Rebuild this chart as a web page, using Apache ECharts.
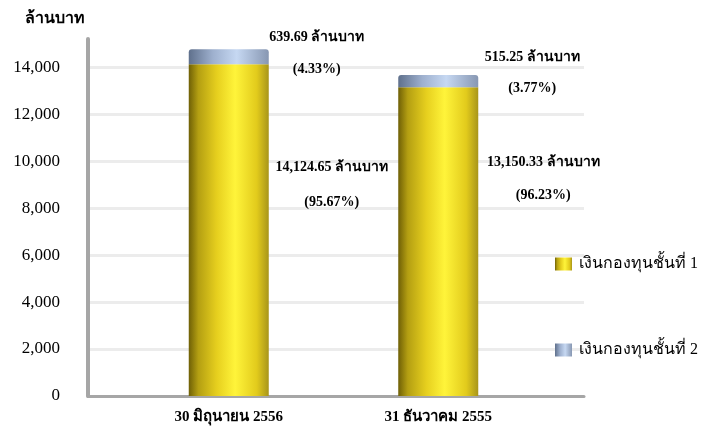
<!DOCTYPE html>
<html>
<head>
<meta charset="utf-8">
<script src="https://cdn.jsdelivr.net/npm/echarts@6/dist/echarts.min.js"></script>
<style>
html,body{margin:0;padding:0;background:#fff;}
#chart{width:711px;height:430px;}
</style>
</head>
<body>
<div id="chart"></div>
<script>
// ---- data ----
const categories = ['30 มิถุนายน 2556', '31 ธันวาคม 2555'];
const seriesNames = ['เงินกองทุนชั้นที่ 1', 'เงินกองทุนชั้นที่ 2'];
const tier1 = [14124.65, 13150.33];
const tier2 = [639.69, 515.25];
const unitLabel = 'ล้านบาท';
const yTicks = [0, 2000, 4000, 6000, 8000, 10000, 12000, 14000];

// ---- style ----
const FONT = '"Liberation Serif","Times New Roman",serif';
const tier1Offsets = [[63, -45.5, 35], [65, -63, 33]];
const tier2Offsets = [[48, -3.5, 32], [54, -8.5, 31]];
const yMax = 15200;

function fmt(v) {
  return v.toLocaleString('en-US', {minimumFractionDigits: 2, maximumFractionDigits: 2});
}
const totals = tier1.map((v, i) => v + tier2[i]);

const yellow = new echarts.graphic.LinearGradient(0, 0, 1, 0, [
  {offset: 0, color: '#6f6006'},
  {offset: 0.12, color: '#b49f12'},
  {offset: 0.35, color: '#e6cf1e'},
  {offset: 0.58, color: '#fff43a'},
  {offset: 0.85, color: '#e2cb1c'},
  {offset: 1, color: '#a8951a'}
]);
const blue = new echarts.graphic.LinearGradient(0, 0, 1, 0, [
  {offset: 0, color: '#5f708c'},
  {offset: 0.3, color: '#9eb0ce'},
  {offset: 0.6, color: '#c6d8f2'},
  {offset: 1, color: '#8797b2'}
]);

function makeData(values, offsets) {
  return values.map((v, i) => ({
    value: v,
    label: {
      show: true,
      position: 'right',
      distance: 0,
      align: 'center',
      verticalAlign: 'middle',
      offset: [offsets[i][0], offsets[i][1]],
      lineHeight: offsets[i][2],
      formatter: fmt(v) + ' ' + unitLabel + '\n(' + (v / totals[i] * 100).toFixed(2) + '%)'
    }
  }));
}

const chart = echarts.init(document.getElementById('chart'), null, {renderer: 'canvas'});
chart.setOption({
  animation: false,
  backgroundColor: '#fff',
  textStyle: {fontFamily: FONT},
  graphic: [{
    type: 'text', left: 25, top: 11,
    style: {text: unitLabel, font: 'bold 16px ' + FONT, fill: '#000'}
  }],
  legend: {
    orient: 'vertical',
    left: 550, top: 251,
    itemGap: 70,
    itemWidth: 17, itemHeight: 13,
    icon: 'rect',
    textStyle: {fontFamily: FONT, fontSize: 16, color: '#000', padding: [0, 0, 0, 2]},
    data: seriesNames
  },
  grid: [
    {left: 88, right: 127, top: 39, bottom: 34},
    {left: 124, right: 168, top: 39, bottom: 34}
  ],
  xAxis: [
    {
      gridIndex: 0, type: 'category', data: categories,
      axisLine: {lineStyle: {color: '#a6a6a6', width: 3}},
      axisTick: {show: false}, axisLabel: {show: false}
    },
    {
      gridIndex: 1, type: 'category', data: categories,
      axisLine: {show: false}, axisTick: {show: false},
      axisLabel: {fontFamily: FONT, fontSize: 15, fontWeight: 'bold', color: '#000', margin: 14}
    }
  ],
  yAxis: [
    {
      gridIndex: 0, type: 'value', min: 0, max: yMax, interval: 2000,
      axisLine: {show: true, lineStyle: {color: '#a6a6a6', width: 4}},
      axisTick: {show: false},
      axisLabel: {
        fontFamily: FONT, fontSize: 17, color: '#000', margin: 28,
        formatter: v => yTicks.indexOf(v) >= 0 ? v.toLocaleString('en-US') : ''
      },
      splitLine: {show: true, showMaxLine: false, lineStyle: {color: '#ececec', width: 3}}
    },
    {
      gridIndex: 1, type: 'value', min: 0, max: yMax, show: false
    }
  ],
  series: [
    {
      name: seriesNames[0], type: 'bar', stack: 'total',
      xAxisIndex: 1, yAxisIndex: 1, barWidth: 80,
      itemStyle: {color: yellow},
      label: {fontFamily: FONT, fontSize: 14, fontWeight: 'bold', color: '#000'},
      data: makeData(tier1, tier1Offsets)
    },
    {
      name: seriesNames[1], type: 'bar', stack: 'total',
      xAxisIndex: 1, yAxisIndex: 1, barWidth: 80,
      itemStyle: {color: blue, borderRadius: [3, 3, 0, 0]},
      label: {fontFamily: FONT, fontSize: 14, fontWeight: 'bold', color: '#000'},
      data: makeData(tier2, tier2Offsets)
    }
  ]
});
</script>
</body>
</html>
